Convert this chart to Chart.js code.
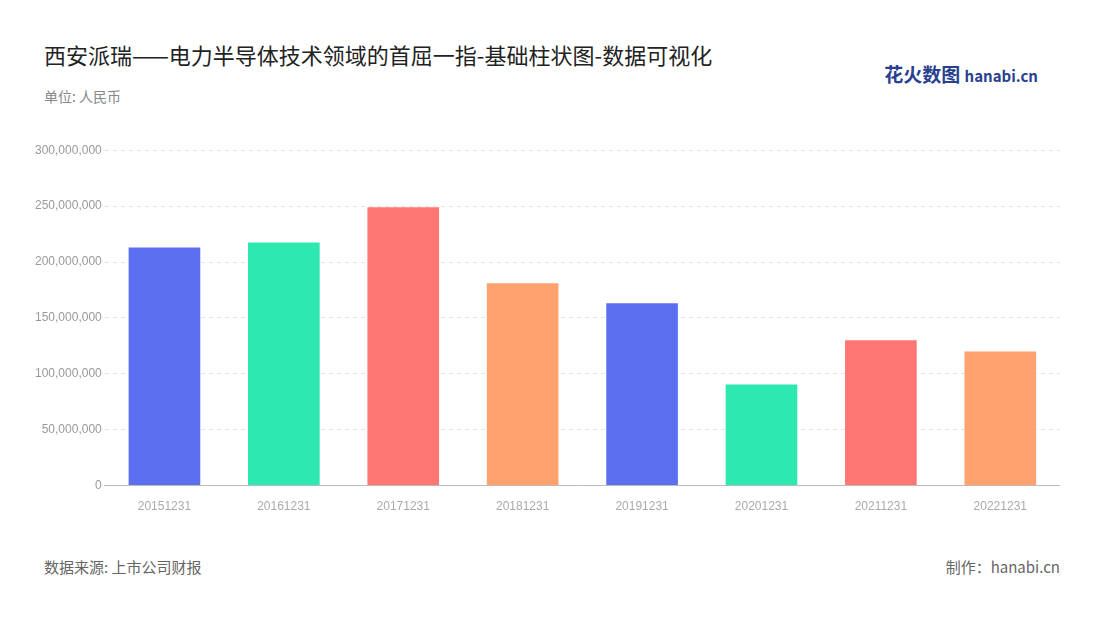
<!DOCTYPE html>
<html><head><meta charset="utf-8">
<script src="https://cdn.jsdelivr.net/npm/chart.js"></script>
<style>
body{margin:0;width:1100px;height:620px;background:#fff;font-family:"Noto Sans CJK SC","Noto Sans",sans-serif;position:relative;overflow:hidden}
#t{position:absolute;left:44px;top:38px;font-size:22px;color:#222;font-weight:400}
#u{position:absolute;left:44px;top:86px;font-size:14px;color:#888}
#s{position:absolute;left:44px;top:556px;font-size:15px;color:#666}
#m{position:absolute;right:40px;top:556px;font-size:15px;color:#666}
#logo{position:absolute;right:62px;top:60px;font-size:19px;font-weight:bold;color:#2a3f8f}
#logo span{font-size:15px}
#c{position:absolute;left:32px;top:140px;width:1028px;height:380px}
</style></head><body>
<div id="t">西安派瑞——电力半导体技术领域的首屈一指-基础柱状图-数据可视化</div>
<div id="u">单位: 人民币</div>
<div id="logo">花火数图 <span>hanabi.cn</span></div>
<div id="c"><canvas id="cv"></canvas></div>
<div id="s">数据来源: 上市公司财报</div>
<div id="m">制作：hanabi.cn</div>
<script>
const categories=["20151231","20161231","20171231","20181231","20191231","20201231","20211231","20221231"];
const values=[213000000,217500000,249000000,181000000,163000000,90500000,130000000,120000000];
const colors=["#5B6FF0","#2DE8B0","#FF7672","#FFA26F","#5B6FF0","#2DE8B0","#FF7672","#FFA26F"];
new Chart(document.getElementById('cv'),{type:'bar',
data:{labels:categories,datasets:[{data:values,backgroundColor:colors,barPercentage:0.6,categoryPercentage:1}]},
options:{responsive:true,maintainAspectRatio:false,animation:false,
plugins:{legend:{display:false},tooltip:{enabled:false}},
scales:{x:{grid:{display:false},border:{color:'#bbb'},ticks:{color:'#aaa',font:{size:12},padding:6}},
y:{min:0,max:300000000,ticks:{stepSize:50000000,color:'#999',font:{size:12},callback:v=>v.toLocaleString('en-US')},
grid:{color:'#e3e3e3',tickLength:0},border:{display:false,dash:[4,4]}}}}});
</script></body></html>
